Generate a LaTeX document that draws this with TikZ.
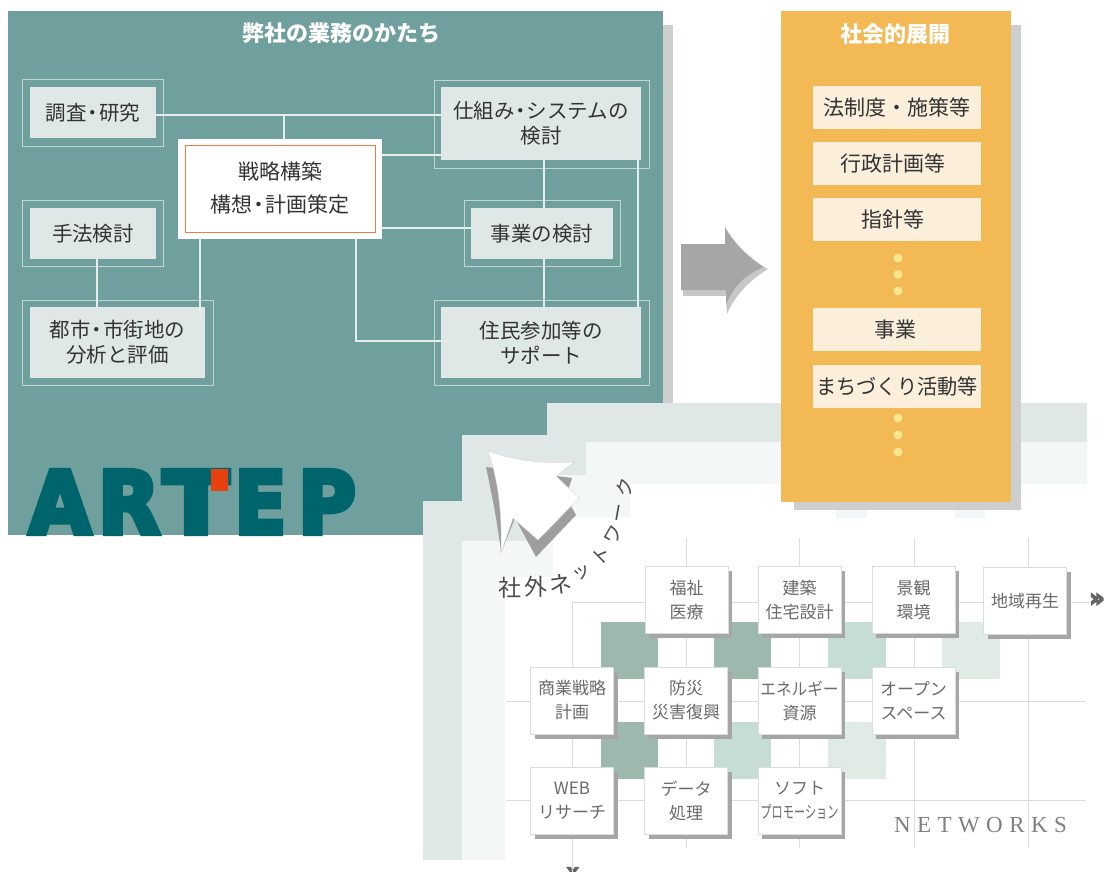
\documentclass[tikz,border=0pt]{standalone}
\usepackage{fontspec}
\usepackage{graphicx}
\usetikzlibrary{shadows}
\newfontfamily\jpfont{Noto Sans CJK JP}
\newfontfamily\logofont[BoldFeatures={FakeBold=6}]{DejaVu Sans}
\newfontfamily\netfont[LetterSpace=28]{Liberation Serif}
\newcommand{\naka}{\kern-.2em ・\kern-.2em}
\definecolor{tealpanel}{HTML}{70A09E}
\definecolor{tealdark}{HTML}{00646C}
\definecolor{pale}{HTML}{DFE8E6}
\definecolor{paler}{HTML}{F3F7F7}
\definecolor{wire}{HTML}{E6EEEC}
\definecolor{frame}{HTML}{C3D5D2}
\definecolor{panelshadow}{HTML}{CDCFCF}
\definecolor{orangepanel}{HTML}{F3B955}
\definecolor{cream}{HTML}{FBEFDC}
\definecolor{dotcol}{HTML}{FBE58E}
\definecolor{gridcol}{HTML}{DADDDD}
\definecolor{greenA}{HTML}{9DB9AE}
\definecolor{greenB}{HTML}{C5DDD5}
\definecolor{greenC}{HTML}{E0EBE6}
\definecolor{cardtext}{HTML}{6A6A6A}
\definecolor{redline}{HTML}{EE7A45}
\definecolor{logored}{HTML}{E8400F}
\tikzset{
    outerbox/.style={draw=frame, line width=0.8pt, inner sep=0pt},
    innerbox/.style={fill=pale, inner sep=0pt, align=center, text=black!80, font=\jpfont\fontsize{20.5}{25}\selectfont},
    creambox/.style={fill=cream, inner sep=0pt, minimum width=168pt, minimum height=43pt, text=black!80, font=\jpfont\fontsize{21}{25}\selectfont},
    yellowdot/.style={circle, fill=dotcol, minimum size=9pt, inner sep=0pt},
    title/.style={text=white, font=\jpfont\bfseries\fontsize{22}{25}\selectfont},
    card/.style={fill=white, draw=gridcol, line width=0.6pt, inner sep=0pt, align=center, minimum width=83pt, minimum height=67pt, text=cardtext,
        font=\jpfont\fontsize{17}{24}\selectfont,
        general shadow={shadow xshift=4pt, shadow yshift=-4.5pt, fill=black!35}},
    bigchar/.style={text=black!70, inner sep=0pt, font=\jpfont\fontsize{23}{25}\selectfont},
    smallchar/.style={text=black!70, inner sep=0pt, font=\jpfont\fontsize{19}{25}\selectfont},
}
\begin{document}
\begin{tikzpicture}[x=1pt,y=-1pt]
    \useasboundingbox (0,0) rectangle (1104,872);
    % main panel
    \fill[panelshadow] (20,25) rectangle (673,404);
    \fill[tealpanel] (8,11) rectangle (663,535);
    \node[title] (worktitle) at (341.5,33) {弊社の業務のかたち};

    % outer frames
    \begin{scope}[every node/.style={outerbox}]
        \node[minimum width=141pt, minimum height=67pt] (chosaf) at (92.5,112.5) {};
        \node[minimum width=141pt, minimum height=66pt] (shuhof) at (92.5,233) {};
        \node[minimum width=191pt, minimum height=85pt] (toshif) at (117.5,342.5) {};
        \node[minimum width=215pt, minimum height=88pt] (shikumif) at (541.5,124) {};
        \node[minimum width=156pt, minimum height=66pt] (jigyof) at (542,233) {};
        \node[minimum width=215pt, minimum height=85pt] (juminf) at (541.5,342.5) {};
    \end{scope}
    % work boxes
    \begin{scope}[every node/.style={innerbox}]
        \node[minimum width=126pt, minimum height=51pt] (chosa) at (93,112.5) {調査\naka 研究};
        \node[minimum width=126pt, minimum height=51pt] (shuho) at (93,233.5) {手法検討};
        \node[minimum width=175pt, minimum height=71pt] (toshi) at (117.5,342.5) {都市\naka 市街地の\\分析と評価};
        \node[minimum width=200pt, minimum height=73pt] (shikumi) at (541,123.5) {仕組み\naka システムの\\検討};
        \node[minimum width=142pt, minimum height=51pt] (jigyo) at (542,233.5) {事業の検討};
        \node[minimum width=200pt, minimum height=71pt] (jumin) at (541,342.5) {住民参加等の\\サポート};
    \end{scope}
    \node[fill=white, minimum width=204pt, minimum height=100pt, inner sep=0pt] (senryaku) at (280,189) {};
    \draw[redline, line width=1pt] (185,146) rectangle (375,232);
    \node[inner sep=0pt, align=center, text=black!80, font=\jpfont\fontsize{21}{33}\selectfont] (keikaku) at (280,188.5) {戦略構築\\構想\naka 計画策定};

    \coordinate (chosaline) at (284,115);
    \coordinate (shikumiline) at (400,155);
    \coordinate (jigyoline) at (400,228);
    \coordinate (midline) at (544,200);
    \coordinate (sideline) at (638,200);
    \coordinate (toshiline) at (200,316);
    \coordinate (shuholine) at (97,280);
    \coordinate (juminline) at (356,341);
    \coordinate (juminend) at (446,341);
    \begin{scope}[every edge/.style={draw,wire,line width=2.5pt}]
        \path (chosa.east |- chosaline) edge (shikumi.west |- chosaline);
        \path (chosaline) edge (senryaku.north -| chosaline);
        \path (senryaku.east |- shikumiline) edge (shikumi.west |- shikumiline);
        \path (senryaku.east |- jigyoline) edge (jigyo.west |- jigyoline);
        \path (shikumi.south -| midline) edge (jigyo.north -| midline);
        \path (jigyo.south -| midline) edge (jumin.north -| midline);
        \path (shikumi.south -| sideline) edge (jumin.north -| sideline);
        \path (shuho.south -| shuholine) edge (toshi.north -| shuholine);
        \path (senryaku.south -| toshiline) edge (toshiline);
    \end{scope}
    \draw[wire, line width=2.5pt] (senryaku.south -| juminline) -- (juminline) -- (juminend);

    % logo
    \begin{scope}[every node/.style={inner sep=0pt, text=tealdark, font=\logofont\bfseries}]
        \node (logoA) at (60,502) {\resizebox{62pt}{63pt}{A}};
        \node (logoR) at (129,502) {\resizebox{62pt}{63pt}{R}};
        \node (logoT) at (196,502) {\resizebox{66pt}{63pt}{T}};
        \node (logoE) at (260.5,502) {\resizebox{52pt}{63pt}{E}};
        \node (logoP) at (327,502) {\resizebox{58pt}{63pt}{P}};
    \end{scope}
    \fill[logored] (211,469) rectangle (228,491);

    % network backdrop
    \fill[white] (423,872) -- (423,501) -- (462,501) -- (462,435) -- (547,435) -- (547,403) -- (1104,403) -- (1104,872) -- cycle;
    \fill[pale] (423,860) -- (423,501) -- (462,501) -- (462,435) -- (547,435) -- (547,403) -- (1087,403)
        -- (1087,442) -- (586,442) -- (586,475) -- (553,475) -- (553,541) -- (462,541) -- (462,860) -- cycle;
    \fill[paler] (462,860) -- (462,541) -- (553,541) -- (553,475) -- (586,475) -- (586,442) -- (1087,442)
        -- (1087,484) -- (630,484) -- (630,517) -- (553,517) -- (553,577) -- (505,577) -- (505,860) -- cycle;
    \fill[paler] (836,505) rectangle (867,518);
    \fill[paler] (955,505) rectangle (985,518);

    % big arrow
    \fill[black!38] (486,467) .. controls (492,495) and (498,525) .. (501,553) -- (515,518) -- (536,557) -- (576,515) -- (566,497) -- (572,478) -- cycle;
    \filldraw[fill=white, draw=black!15, line width=0.4pt] (488,451) .. controls (515,461) and (545,464) .. (574,462) -- (556,476) -- (579,498)
        -- (538,540) -- (513,518) -- (501,553) .. controls (502,520) and (500,485) .. cycle;

    % arrow to right panel
    \fill[black!22] (683,290) rectangle (727,296);
    \fill[black!22] (764,267) -- (768,269) .. controls (750,280) and (735,295) .. (727,314) -- (726,300) .. controls (735,287) and (745,275) .. cycle;
    \fill[black!35] (681,244) -- (725,244) -- (725,227) .. controls (735,245) and (750,258) .. (764,267)
        .. controls (745,275) and (733,287) .. (726,305) -- (726,290) -- (681,290) -- cycle;

    % right panel
    \fill[panelshadow] (794,25) rectangle (1021,510);
    \fill[orangepanel] (781,11) rectangle (1011,502);
    \node[title] (socialtitle) at (895.5,34) {社会的展開};
    \begin{scope}[every node/.style={creambox}]
        \node (hosei) at (897,107.5) {法制度・施策等};
        \node (gyosei) at (897,163.5) {行政計画等\kern9pt};
        \node (shishin) at (897,219.5) {指針等\kern9pt};
        \node (jigyob) at (897,329.5) {事業\kern4pt};
        \node (machi) at (897,386.5) {\scalebox{0.96}[1]{まちづくり活動等}};
    \end{scope}
    \begin{scope}[every node/.style={yellowdot}]
        \node (d1) at (898,258) {};
        \node (d2) at (898,274.5) {};
        \node (d3) at (898,291) {};
        \node (d4) at (898,418) {};
        \node (d5) at (898,435) {};
        \node (d6) at (898,452) {};
    \end{scope}

    % grid
    \node[text=black!60, inner sep=0pt, font=\logofont\bfseries\fontsize{24}{24}\selectfont] (nextx) at (1097,600) {»};
    \node[text=black!60, inner sep=0pt, rotate=-90, font=\logofont\bfseries\fontsize{24}{24}\selectfont] (nexty) at (572,873) {»};
    \coordinate (h1) at (572,602);
    \coordinate (h2s) at (506,701);
    \coordinate (h2e) at (1086,701);
    \coordinate (h3s) at (506,800);
    \coordinate (h3e) at (1086,800);
    \coordinate (v2s) at (686.5,538);
    \coordinate (v2e) at (686.5,848);
    \coordinate (v3s) at (799,538);
    \coordinate (v3e) at (799,848);
    \coordinate (v4s) at (914,538);
    \coordinate (v4e) at (914,848);
    \coordinate (v5s) at (1028,538);
    \coordinate (v5e) at (1028,848);
    \begin{scope}[every edge/.style={draw,gridcol,line width=0.7pt}]
        \path (h1) edge (nextx.west |- h1);
        \path (h1) edge (nexty.east -| h1);
        \path (h2s) edge (h2e);
        \path (h3s) edge (h3e);
        \path (v2s) edge (v2e);
        \path (v3s) edge (v3e);
        \path (v4s) edge (v4e);
        \path (v5s) edge (v5e);
    \end{scope}
    \fill[greenA] (601,622) rectangle (658,679);
    \fill[greenA] (713.5,622) rectangle (771,679);
    \fill[greenB] (828,622) rectangle (886,679);
    \fill[greenC] (941.5,622) rectangle (1000,679);
    \fill[greenA] (601,722) rectangle (658,779);
    \fill[greenB] (713.5,722) rectangle (771,779);
    \fill[greenC] (828,722) rectangle (886,779);

    \begin{scope}[every node/.style={card}]
        \node (fukushi) at (686.5,600) {福祉\\医療};
        \node (kenchiku) at (799.5,600) {建築\\住宅設計};
        \node (keikan) at (913.5,600) {景観\\環境};
        \node (chiiki) at (1025,601) {地域再生};
        \node (shogyo) at (572,700.5) {商業戦略\\計画};
        \node (bosai) at (686,700.5) {防災\\災害復興};
        \node (energy) at (799.5,700.5) {\scalebox{0.92}[1]{エネルギー}\\資源};
        \node (openspace) at (913.5,700.5) {オープン\\スペース};
        \node (webres) at (572,800.5) {WEB\\リサーチ};
        \node (dataproc) at (686,800.5) {データ\\処理};
        \node (softpro) at (799.5,800.5) {ソフト\\\scalebox{0.66}[1]{プロモーション}};
    \end{scope}

    % curved label
    \begin{scope}[every node/.style={bigchar}]
        \node (c1) at (510,588) {社};
        \node (c2) at (536,587) {外};
        \node[rotate=8] (c3) at (561,584) {ネ};
    \end{scope}
    \begin{scope}[every node/.style={smallchar}]
        \node[rotate=25] (c4) at (582,573) {ッ};
        \node[rotate=45] (c5) at (601,556) {ト};
        \node[rotate=60] (c6) at (614,535) {ワ};
        \node[rotate=80] (c7) at (621,513) {ー};
        \node[rotate=75] (c8) at (625,487) {ク};
    \end{scope}
    \node[text=black!50, inner sep=0pt, font=\netfont\fontsize{23}{25}\selectfont] (networks) at (980.5,825) {NETWORKS};
\end{tikzpicture}
\end{document}
